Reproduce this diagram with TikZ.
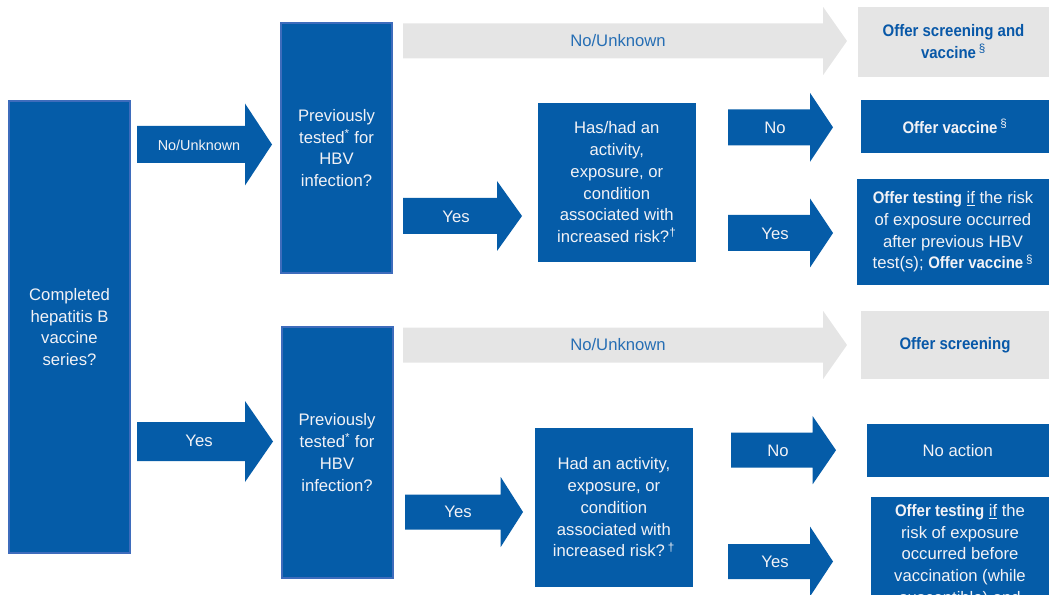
\documentclass[tikz,border=0pt]{standalone}
\usepackage{fontspec}
\setmainfont{Liberation Sans}[BoldFeatures={FakeStretch=0.9}]

\definecolor{cdcblue}{RGB}{5,92,168}
\definecolor{edgeblue}{RGB}{62,108,188}
\definecolor{panelgray}{RGB}{229,229,229}
\definecolor{graytext}{RGB}{38,110,180}
\definecolor{boldblue}{RGB}{8,88,168}
\definecolor{paletext}{RGB}{242,242,246}

\newcommand{\mainfs}{\fontsize{12.5}{16.3}\selectfont}
\newcommand{\smallfs}{\fontsize{10.8}{13}\selectfont}
% block arrow: colour, x start, head start, tip, y centre, shaft half, head half
\newcommand{\blockarrow}[7]{%
  \fill[#1] (#2,#5-#6) -- (#3,#5-#6) -- (#3,#5-#7) -- (#4,#5)
    -- (#3,#5+#7) -- (#3,#5+#6) -- (#2,#5+#6) -- cycle;}

\begin{document}
\begin{tikzpicture}[x=0.75pt,y=-0.75pt,
    question/.style={fill=cdcblue,draw=edgeblue,line width=1.5pt,text=paletext,
      align=center,inner sep=0pt,font=\mainfs},
    answer/.style={fill=cdcblue,text=paletext,align=center,inner sep=0pt,font=\mainfs},
    grayanswer/.style={fill=panelgray,text=boldblue,align=center,inner sep=0pt,
      font=\mainfs\bfseries},
    arrlabel/.style={text=paletext,inner sep=0pt,font=\mainfs},
    graylabel/.style={text=graytext,inner sep=0pt,font=\mainfs}]
  \useasboundingbox (0,0) rectangle (1049,595);
  \clip (0,0) rectangle (1049,595);

  % arrows
  \blockarrow{cdcblue}{137}{245}{272}{144.5}{18.5}{41}
  \blockarrow{cdcblue}{137}{245}{273}{441.5}{19.5}{40.5}
  \blockarrow{panelgray}{403}{823}{847}{41}{17.5}{34.2}
  \blockarrow{panelgray}{403}{823}{847}{345}{17.5}{34.2}
  \blockarrow{cdcblue}{403}{497}{522}{216}{18}{35}
  \blockarrow{cdcblue}{405}{500.7}{523}{512}{17.5}{35}
  \blockarrow{cdcblue}{728}{810}{833}{127.3}{18}{34.5}
  \blockarrow{cdcblue}{728}{810}{833}{233}{18}{34.5}
  \blockarrow{cdcblue}{731}{812.7}{836}{450.2}{17.5}{34}
  \blockarrow{cdcblue}{728}{810}{833}{561.5}{17.5}{35}

  % arrow labels
  \node[arrlabel,font=\smallfs] (lnotop) at (199,145) {No/Unknown};
  \node[arrlabel] (lyesleft) at (199,441) {Yes};
  \node[graylabel] (lgraytop) at (618,41) {No/Unknown};
  \node[graylabel] (lgraybot) at (618,345) {No/Unknown};
  \node[arrlabel] (lyestop) at (456,217) {Yes};
  \node[arrlabel] (lyesbot) at (458,512) {Yes};
  \node[arrlabel] (lnoright) at (775,128) {No};
  \node[arrlabel] (lyesright) at (775,234) {Yes};
  \node[arrlabel] (lnobot) at (778,451) {No};
  \node[arrlabel] (lyesbotright) at (775,562) {Yes};

  % questions
  \node[question,minimum width=90.75pt,minimum height=339pt] (series) at (69.5,327)
    {Completed\\hepatitis B\\vaccine\\series?};
  \node[question,minimum width=83.25pt,minimum height=187.5pt] (testedtop) at (336.5,148)
    {Previously\\tested\textsuperscript{*} for\\HBV\\infection?};
  \node[question,minimum width=83.25pt,minimum height=188.25pt] (testedbot) at (337,452.5)
    {Previously\\tested\textsuperscript{*} for\\HBV\\infection?};
  \node[answer,minimum width=118.5pt,minimum height=119.25pt] (risktop) at (616.8,182.2)
    {Has/had an\\activity,\\exposure, or\\condition\\associated with\\increased risk?\textsuperscript{†}};
  \node[answer,minimum width=118.3pt,minimum height=118.8pt] (riskbot) at (613.9,507.5)
    {Had an activity,\\exposure, or\\condition\\associated with\\increased risk?\,\textsuperscript{†}};

  % outcomes
  \node[grayanswer,minimum width=143.25pt,minimum height=52.3pt] (screenvacc) at (953.5,41.8)
    {Offer screening and\\vaccine\,\textsuperscript{\mdseries§}};
  \node[answer,minimum width=141pt,minimum height=39.5pt] (vaccine) at (955,126.3)
    {\textbf{Offer vaccine}\,\textsuperscript{§}};
  \node[answer,minimum width=144pt,minimum height=79.5pt] (testafter) at (953,232)
    {\textbf{Offer testing} \underline{if} the risk\\of exposure occurred\\after previous HBV\\test(s); \textbf{Offer vaccine}\,\textsuperscript{§}};
  \node[grayanswer,minimum width=141pt,minimum height=51.2pt] (screen) at (955,344.8)
    {Offer screening};
  \node[answer,minimum width=136.7pt,minimum height=39.5pt] (noaction) at (957.8,450.3)
    {No action};
  \node[answer,minimum width=133.5pt,minimum height=87.75pt] (testbefore) at (960,555.5)
    {\textbf{Offer testing} \underline{if} the\\risk of exposure\\occurred before\\vaccination (while\\susceptible) and};
\end{tikzpicture}
\end{document}
